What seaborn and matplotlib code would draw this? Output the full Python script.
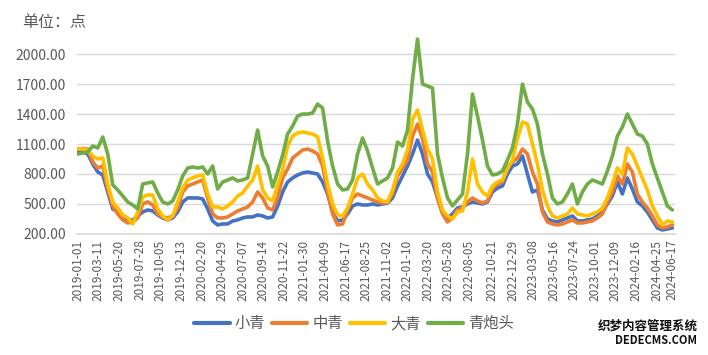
import matplotlib
matplotlib.use("Agg")
import matplotlib.pyplot as plt
import numpy as np
import pandas as pd
import seaborn as sns

# series names and colours (Excel default palette)
names = ["小青", "中青", "大青", "青炮头"]
colors = ["#4472C4", "#ED7D31", "#FFC000", "#70AD47"]

tick_labels = ["2019-01-01", "2019-03-11", "2019-05-20", "2019-07-28", "2019-10-05",
               "2019-12-13", "2020-02-20", "2020-04-29", "2020-07-07", "2020-09-14",
               "2020-11-22", "2021-01-30", "2021-04-09", "2021-06-17", "2021-08-25",
               "2021-11-02", "2022-01-10", "2022-03-20", "2022-05-28", "2022-08-05",
               "2022-10-21", "2022-12-29", "2023-03-08", "2023-05-16", "2023-07-24",
               "2023-10-01", "2023-12-09", "2024-02-16", "2024-04-25", "2024-06-17"]

# values, roughly every 17 days
xiao = [1020, 1020, 1000, 900, 820, 790, 620, 450, 420, 350,
        330, 340, 380, 420, 440, 430, 390, 360, 340, 360,
        420, 520, 560, 560, 560, 550, 450, 330, 290, 300,
        300, 330, 340, 360, 370, 370, 390, 380, 360, 370,
        480, 620, 720, 760, 790, 810, 820, 810, 800, 720,
        600, 420, 330, 340, 400, 480, 500, 490, 490, 500,
        490, 500, 510, 560, 680, 780, 880, 1000, 1140, 1000,
        800, 720, 560, 420, 360, 400, 460, 470, 500, 520,
        510, 500, 520, 620, 660, 680, 800, 880, 900, 980,
        800, 620, 640, 440, 350, 330, 320, 340, 360, 380,
        330, 330, 340, 350, 380, 420, 500, 580, 720, 600,
        760, 650, 520, 480, 420, 340, 260, 240, 250, 260]
zhong = [1050, 1055, 1050, 920, 860, 880, 650, 480, 400, 340,
         310, 320, 360, 500, 520, 490, 400, 370, 360, 380,
         460, 620, 680, 700, 720, 740, 560, 400, 360, 360,
         370, 400, 430, 450, 470, 520, 620, 560, 460, 440,
         560, 760, 850, 960, 1000, 1040, 1050, 1030, 1000, 880,
         620, 400, 290, 300, 440, 560, 600, 580, 560, 540,
         520, 510, 520, 600, 780, 860, 940, 1180, 1300, 1150,
         900, 820, 560, 400, 320, 360, 440, 460, 520, 560,
         530, 510, 530, 650, 700, 720, 880, 920, 960, 1050,
         1000, 820, 700, 420, 320, 300, 290, 300, 320, 340,
         310, 310, 320, 330, 360, 400, 520, 620, 780, 700,
         900, 820, 600, 520, 460, 380, 290, 260, 270, 290]
da = [1050, 1050, 1040, 980, 950, 960, 700, 520, 460, 390,
      360, 300, 420, 570, 590, 590, 450, 380, 340, 380,
      520, 660, 740, 760, 780, 790, 600, 470, 470, 450,
      480, 520, 580, 610, 680, 740, 880, 640, 560, 530,
      690, 840, 1080, 1180, 1210, 1220, 1210, 1200, 1170, 960,
      700, 500, 390, 380, 460, 600, 760, 800, 700, 640,
      560, 530, 520, 640, 820, 900, 1040, 1350, 1440, 1240,
      1050, 950, 620, 440, 380, 350, 420, 430, 620, 950,
      700, 620, 580, 680, 720, 740, 850, 940, 1150, 1320,
      1300, 1100, 900, 640, 480, 380, 360, 380, 400, 460,
      400, 390, 380, 400, 420, 460, 560, 700, 860, 800,
      1060, 1000, 880, 760, 640, 480, 380, 290, 330, 320]
paotou = [1000, 1010, 1020, 1080, 1060, 1170, 1000, 690, 640, 580,
          520, 490, 450, 700, 710, 720, 610, 520, 500, 530,
          640, 780, 860, 870, 860, 870, 800, 880, 650, 720,
          740, 760, 730, 740, 760, 1000, 1240, 980, 880, 670,
          820, 990, 1200, 1280, 1380, 1400, 1400, 1410, 1500, 1460,
          1130, 880, 700, 640, 650, 740, 1000, 1160, 1030, 860,
          700, 730, 760, 860, 1120, 1080, 1240, 1750, 2150, 1700,
          1680, 1660, 1000, 760, 560, 480, 540, 600, 1000, 1600,
          1380, 1140, 880, 790, 800, 830, 940, 1060, 1300, 1700,
          1520, 1450, 1300, 1000, 800, 560, 500, 520, 600, 700,
          500, 620, 700, 740, 720, 700, 830, 980, 1180, 1270,
          1400, 1300, 1200, 1180, 1100, 900, 760, 620, 480, 440]

dates = pd.date_range(tick_labels[0], tick_labels[-1], periods=len(xiao))
df = pd.DataFrame({"日期": dates, names[0]: xiao, names[1]: zhong,
                   names[2]: da, names[3]: paotou})
long_df = df.melt(id_vars="日期", var_name="品种", value_name="点")

sns.set_theme(style="white")
plt.rcParams["font.family"] = ["Noto Sans CJK SC", "DejaVu Sans"]

fig = plt.figure(figsize=(7.08, 3.55), dpi=100)
ax = fig.add_axes([0.109, 0.341, 0.844, 0.563])

sns.lineplot(data=long_df, x="日期", y="点", hue="品种", hue_order=names,
             palette=colors, linewidth=2.6, ax=ax, legend=False)

ax.set_ylim(200, 2200)
ax.set_yticks(np.arange(200, 2001, 300))
ax.yaxis.set_major_formatter(matplotlib.ticker.FuncFormatter(lambda v, p: f"{v:.2f}"))
ax.grid(axis="y", color="#D9D9D9", linewidth=1)
ax.set_axisbelow(True)

tick_dates = pd.to_datetime(tick_labels)
ax.set_xticks(tick_dates)
ax.set_xticklabels(tick_labels, rotation=90)
ax.set_xlim(dates[0] - pd.Timedelta(days=2), dates[-1] + pd.Timedelta(days=8))

for s in ["top", "right", "left"]:
    ax.spines[s].set_visible(False)
ax.spines["bottom"].set_color("#D9D9D9")
ax.tick_params(axis="both", length=0, colors="#595959")
ax.tick_params(axis="y", labelsize=10, pad=8)
ax.tick_params(axis="x", labelsize=8.5, pad=4)
ax.set_xlabel("")
ax.set_ylabel("")

fig.text(0.031, 0.925, "单位：点", fontsize=11.5, color="#595959")

handles = [plt.Line2D([], [], color=c, linewidth=3) for c in colors]
fig.legend(handles, names, loc="center", bbox_to_anchor=(0.5, 0.088), ncol=4,
           frameon=False, fontsize=11, labelcolor="#595959",
           handlelength=2.3, handletextpad=0.3, columnspacing=0.5)

# watermark from the source image
fig.text(0.985, 0.08, "织梦内容管理系统", fontsize=9, color="#111111",
         ha="right", va="center", fontweight="bold")
fig.text(0.985, 0.04, "DEDECMS.COM", fontsize=8, color="#111111",
         ha="right", va="center", fontweight="bold")

fig.savefig("out.png", dpi=100)
